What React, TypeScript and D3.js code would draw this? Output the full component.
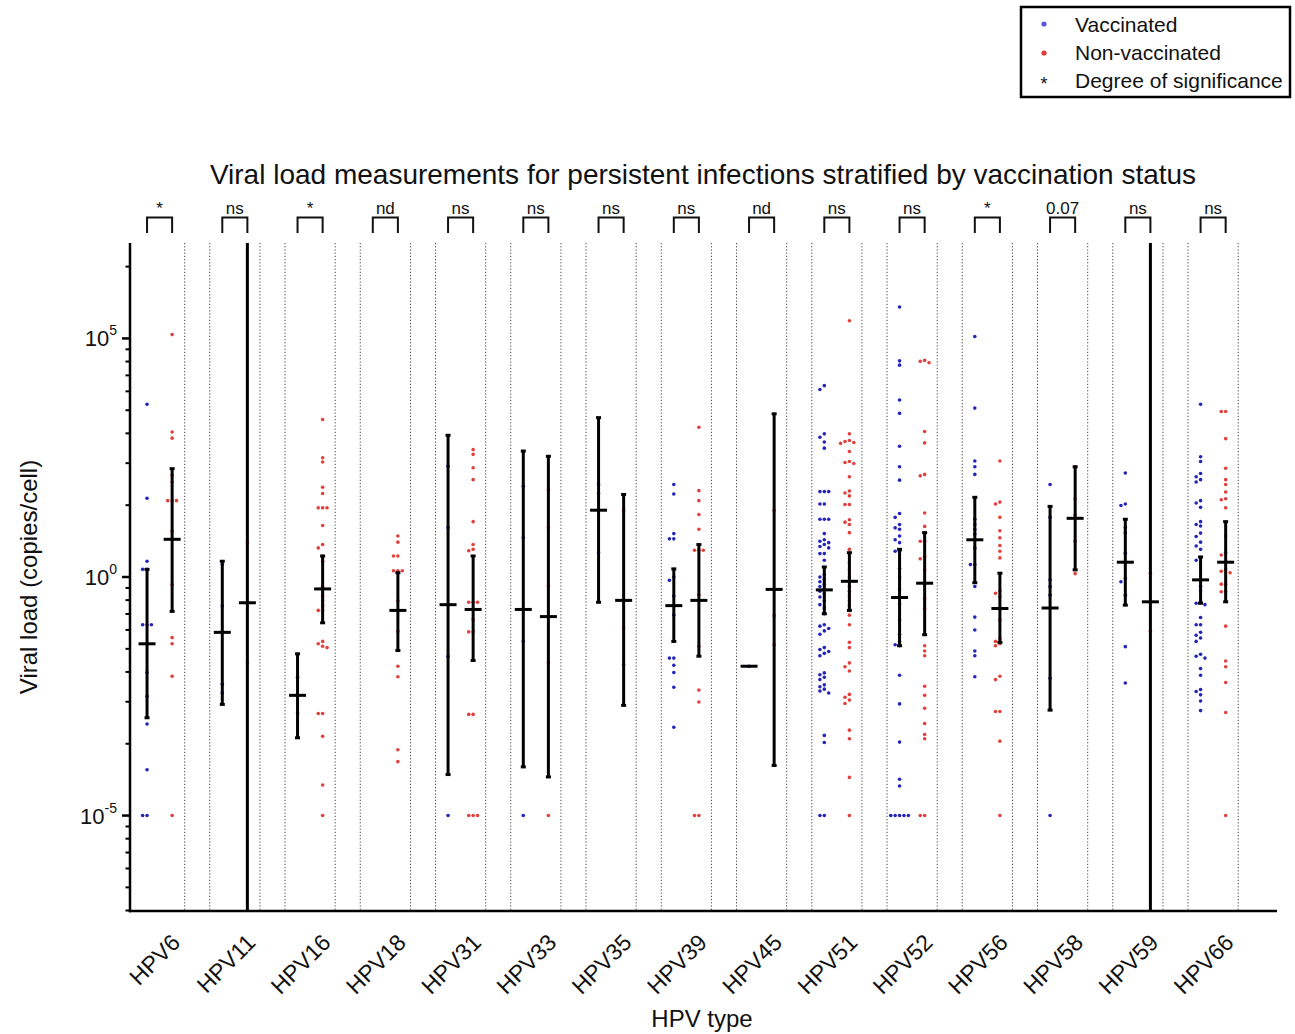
import React from "react";
import * as d3 from "d3";

// HPV types along the x axis
const hpvTypes = [
  "HPV6", "HPV11", "HPV16", "HPV18", "HPV31", "HPV33", "HPV35", "HPV39",
  "HPV45", "HPV51", "HPV52", "HPV56", "HPV58", "HPV59", "HPV66",
];

// label above each bracket
const significance = ["*", "ns", "*", "nd", "ns", "ns", "ns", "ns", "nd", "ns", "ns", "*", "0.07", "ns", "ns"];

// viral load per infection, stored as log10(copies/cell), one list per HPV type
const vaccinatedLog10 = [
  [3.62, 1.65, 0.33, 0.16, 0.16, -1.0, -1.0, -1.0, -2.0, -2.5, -3.08, -4.04, -5, -5],
  [0.26, -0.61, -2.25, -2.43],
  [-2.1, -2.5, -2.85],
  [],
  [2.32, 1.03, -1.66, -5],
  [1.9, 0.82, -1.35, -5],
  [1.94, 1.75, 0.51],
  [1.94, 1.74, 0.91, 0.8, 0.8, 0.0, -0.07, -0.4, -0.8, -1.7, -1.7, -1.85, -2.0, -2.31, -3.15],
  [-1.87],
  [4.01, 3.93, 3.0, 2.93, 2.83, 2.7, 1.79, 1.79, 1.79, 1.53, 1.53, 1.21, 1.21, 1.21, 0.91, 0.78, 0.75, 0.72, 0.68,
    0.64, 0.61, 0.49, 0.49, 0.35, 0.05, 0.0, -0.05, -0.1, -0.15, -0.2, -0.25, -0.3, -0.35, -0.42, -0.5, -0.58, -0.65,
    -0.77, -1.0, -1.03, -1.08, -1.13, -1.2, -1.48, -1.52, -1.56, -1.6, -1.65, -2.01, -2.05, -2.1, -2.15, -2.26, -2.3,
    -2.35, -2.39, -2.43, -3.32, -3.47, -5, -5],
  [5.66, 4.53, 4.44, 3.71, 3.43, 2.74, 2.31, 2.03, 1.33, 1.25, 1.1, 1.03, 1.0, 0.86, 0.78, 0.72, 0.54, 0.54, 0.18,
    0.0, -0.25, -0.56, -0.9, -1.2, -1.35, -1.42, -1.44, -2.06, -2.66, -3.46, -4.24, -4.38, -5, -5, -5, -5, -5],
  [5.04, 3.54, 2.43, 2.31, 2.15, 1.21, 1.1, 1.0, 0.9, 0.6, 0.26, 0.26, -0.2, -0.84, -1.11, -1.55, -1.65, -2.09],
  [1.94, 1.25, -0.06, -0.2, -0.38, -2.12, -5],
  [2.18, 1.53, 1.5, 1.04, 0.93, 0.5, -0.03, -0.1, -0.38, -1.46, -2.22],
  [3.62, 2.52, 2.42, 2.17, 2.1, 2.04, 1.99, 1.6, 1.55, 1.46, 1.16, 1.1, 1.07, 0.92, 0.85, 0.73, 0.65, 0.58, 0.41,
    0.35, -0.2, -0.29, -0.51, -0.55, -0.58, -0.85, -1.0, -1.0, -1.16, -1.22, -1.28, -1.35, -1.62, -1.66, -1.7, -1.92,
    -2.06, -2.36, -2.4, -2.47, -2.6, -2.8],
];

const nonVaccinatedLog10 = [
  [5.08, 3.04, 2.91, 2.13, 1.99, 1.6, 1.6, 1.6, 0.96, -0.16, -1.27, -1.4, -2.08, -5],
  [0.72, -1.8],
  [3.3, 2.5, 2.41, 1.88, 1.75, 1.45, 1.45, 1.45, 1.08, 0.68, 0.61, 0.44, 0.33, -0.2, -0.4, -0.5, -0.6, -0.7, -0.7,
    -1.35, -1.4, -1.45, -1.48, -2.86, -2.86, -3.34, -4.36, -5],
  [0.86, 0.73, 0.44, 0.44, 0.13, 0.13, 0.13, -0.5, -1.14, -1.87, -2.09, -3.62, -3.87],
  [2.67, 2.57, 2.29, 2.04, 1.16, 0.68, 0.58, 0.55, -0.53, -0.53, -0.53, -0.89, -1.15, -1.15, -2.88, -2.88, -5, -5, -5],
  [1.83, 1.03, -0.19, -1.79, -5],
  [1.4, -1.07, -1.83],
  [3.14, 1.81, 1.6, 1.31, 1.0, 0.56, 0.56, 0.56, -0.37, -0.49, -1.45, -2.37, -2.62, -5, -5],
  [1.4, -0.81, -1.42],
  [5.37, 3.0, 2.86, 2.84, 2.82, 2.8, 2.63, 2.42, 2.4, 2.38, 2.1, 1.8, 1.76, 1.7, 1.52, 1.52, 1.2, 1.15, 1.1, 0.93,
    0.58, 0.3, 0.15, 0.0, -0.1, -0.2, -0.3, -0.4, -0.5, -0.6, -0.7, -0.8, -1.0, -1.37, -1.48, -1.8, -1.88, -1.97,
    -2.46, -2.52, -2.58, -2.65, -3.21, -3.39, -4.2, -5],
  [4.54, 4.52, 4.49, 3.05, 2.81, 2.15, 2.12, 1.34, 1.06, 0.75, 0.75, 0.43, 0.38, 0.15, -0.15, -0.45, -0.66, -1.44,
    -1.55, -1.65, -2.29, -2.48, -2.75, -3.07, -3.3, -3.39, -5, -5],
  [2.43, 1.57, 1.53, 1.25, 0.97, 0.82, 0.66, 0.54, 0.4, -0.29, -0.34, -0.42, -0.9, -1.29, -1.35, -1.4, -1.44, -2.08,
    -2.15, -2.82, -2.82, -3.44, -5],
  [2.31, 1.64, 1.3, 0.75, 0.07],
  [0.08, -1.14],
  [3.47, 3.47, 2.9, 2.28, 2.04, 1.94, 1.78, 1.64, 1.62, 1.45, 0.86, 0.52, 0.46, 0.15, 0.12, 0.09, -0.15, -0.15, -0.31,
    -0.31, -1.03, -1.76, -1.88, -2.21, -2.84, -5],
];

// geometric mean and 95% CI (log10), as drawn in the figure; +-20 means off the axis
const vaccMean = [-1.4, -1.16, -2.48, null, -0.58, -0.68, 1.4, -0.6, -1.87, -0.27, -0.43, 0.78, -0.65, 0.31, -0.06];
const vaccLow = [-2.95, -2.67, -3.37, null, -4.14, -3.98, -0.53, -1.35, null, -0.77, -1.44, -0.12, -2.79, -0.59, -0.55];
const vaccHigh = [0.16, 0.33, -1.61, null, 2.97, 2.64, 3.34, 0.17, null, 0.21, 0.58, 1.67, 1.48, 1.21, 0.42];
const nonMean = [0.79, -0.54, -0.25, -0.7, -0.68, -0.83, -0.49, -0.49, -0.26, -0.09, -0.13, -0.66, 1.23, -0.52, 0.31];
const nonLow = [-0.72, -20, -0.96, -1.54, -1.75, -4.19, -2.69, -1.66, -3.95, -0.7, -1.21, -1.37, 0.15, -20, -0.52];
const nonHigh = [2.27, 20, 0.44, 0.09, 0.44, 2.53, 1.73, 0.68, 3.42, 0.51, 0.93, 0.08, 2.31, 20, 1.16];

const FONT = "'Liberation Sans', Arial, Helvetica, sans-serif";
const BLUE = "#2424b8";
const RED = "#e2403c";

const plot = { left: 130, right: 1277, top: 243, bottom: 911 };

// simple beeswarm so points of a column don't overlap
const swarm = (values, cx, y) => {
  const step = 4.4;
  const minD = 4.2;
  const placed = [];
  [...values].sort((a, b) => b - a).forEach(v => {
    const py = y(Math.pow(10, v));
    for (let k = 0; k < 40; k++) {
      const off = k === 0 ? 0 : (k % 2 ? -1 : 1) * Math.ceil(k / 2) * step;
      const px = cx + off;
      if (placed.every(p => (p.x - px) ** 2 + (p.y - py) ** 2 >= minD * minD)) {
        placed.push({ x: px, y: py });
        break;
      }
    }
  });
  return placed;
};

const App = () => {
  const yScale = d3.scaleLog().domain([1e-7, 1e7]).range([plot.bottom, plot.top]).clamp(true);
  const xGroup = d3
    .scaleBand()
    .domain(hpvTypes)
    .range([134.5, 1238.2])
    .paddingInner(1 / 3)
    .paddingOuter(0);
  const xSub = d3.scaleBand().domain(["vacc", "non"]).range([0, xGroup.bandwidth()]);
  const cx = (t, s) => xGroup(t) + xSub(s) + xSub.bandwidth() / 2;

  const majorTicks = [1e-5, 1, 1e5];
  const minorTicks = [];
  [-10, -5, 0, 5].forEach(base =>
    d3.range(2, 10).forEach(k => {
      const e = base + 5 * Math.log10(k);
      if (e > -7 && e < 7) minorTicks.push(Math.pow(10, e));
    })
  );

  const errorBar = (mean, lo, hi, x, key) => {
    if (mean == null) return null;
    const ym = yScale(Math.pow(10, mean));
    const inside = v => v > -7 && v < 7;
    return (
      <g key={key} stroke="#000" strokeWidth={3}>
        {lo != null && (
          <line x1={x} x2={x} y1={yScale(Math.pow(10, lo))} y2={yScale(Math.pow(10, hi))} />
        )}
        {lo != null && inside(lo) && (
          <line x1={x - 2.5} x2={x + 2.5} y1={yScale(Math.pow(10, lo))} y2={yScale(Math.pow(10, lo))} />
        )}
        {hi != null && inside(hi) && (
          <line x1={x - 2.5} x2={x + 2.5} y1={yScale(Math.pow(10, hi))} y2={yScale(Math.pow(10, hi))} />
        )}
        <line x1={x - 8.5} x2={x + 8.5} y1={ym} y2={ym} />
      </g>
    );
  };

  const supLabel = v => String(Math.round(Math.log10(v)));

  return (
    <div style={{ position: "absolute", left: 0, top: 0 }}>
      <svg width={1295} height={1034} style={{ display: "block" }} fontFamily={FONT}>
        <rect width={1295} height={1034} fill="#fff" />

        {/* dotted separators around each group */}
        {hpvTypes.map((t, i) => (
          <g key={t} stroke="#444" strokeWidth={1} strokeDasharray="1.2,2">
            {i > 0 && <line x1={xGroup(t)} x2={xGroup(t)} y1={plot.top} y2={plot.bottom} />}
            <line
              x1={xGroup(t) + xGroup.bandwidth()}
              x2={xGroup(t) + xGroup.bandwidth()}
              y1={plot.top}
              y2={plot.bottom}
            />
          </g>
        ))}

        {/* points */}
        {hpvTypes.map((t, i) => (
          <g key={t}>
            {swarm(vaccinatedLog10[i], cx(t, "vacc"), yScale).map((p, j) => (
              <circle key={"v" + j} cx={p.x} cy={p.y} r={1.8} fill={BLUE} />
            ))}
            {swarm(nonVaccinatedLog10[i], cx(t, "non"), yScale).map((p, j) => (
              <circle key={"n" + j} cx={p.x} cy={p.y} r={1.8} fill={RED} />
            ))}
          </g>
        ))}

        {/* geometric mean with 95% CI */}
        {hpvTypes.map((t, i) => (
          <g key={t}>
            {errorBar(vaccMean[i], vaccLow[i], vaccHigh[i], cx(t, "vacc"), "v")}
            {errorBar(nonMean[i], nonLow[i], nonHigh[i], cx(t, "non"), "n")}
          </g>
        ))}

        {/* y axis */}
        <g stroke="#000">
          <line x1={plot.left} x2={plot.left} y1={plot.top} y2={plot.bottom + 1.25} strokeWidth={2.5} />
          {majorTicks.map(v => (
            <line key={v} x1={plot.left - 8} x2={plot.left} y1={yScale(v)} y2={yScale(v)} strokeWidth={2.5} />
          ))}
          {minorTicks.map(v => (
            <line key={v} x1={plot.left - 4.5} x2={plot.left} y1={yScale(v)} y2={yScale(v)} strokeWidth={2} />
          ))}
        </g>
        {majorTicks.map(v => (
          <text key={v} x={117} y={yScale(v) + 8} textAnchor="end" fontSize={22} fill="#111">
            10
            <tspan fontSize={14} dy={-11}>
              {supLabel(v)}
            </tspan>
          </text>
        ))}

        {/* x axis */}
        <line x1={plot.left - 1.25} x2={plot.right} y1={plot.bottom} y2={plot.bottom} stroke="#000" strokeWidth={2.5} />
        {hpvTypes.map(t => {
          const x = xGroup(t) + xGroup.bandwidth() / 2 + 22;
          const y = 944;
          return (
            <text
              key={t}
              x={x}
              y={y}
              textAnchor="end"
              fontSize={23}
              fill="#111"
              transform={`rotate(-45,${x},${y})`}
            >
              {t}
            </text>
          );
        })}

        {/* significance brackets */}
        {hpvTypes.map((t, i) => {
          const x1 = cx(t, "vacc");
          const x2 = cx(t, "non");
          return (
            <g key={t}>
              <path
                d={`M${x1},233 V217.5 H${x2} V233`}
                fill="none"
                stroke="#111"
                strokeWidth={2}
              />
              <text x={(x1 + x2) / 2} y={214} textAnchor="middle" fontSize={17} fill="#111">
                {significance[i]}
              </text>
            </g>
          );
        })}

        {/* titles */}
        <text x={703} y={184} textAnchor="middle" fontSize={28} fill="#111">
          Viral load measurements for persistent infections stratified by vaccination status
        </text>
        <text x={702} y={1027} textAnchor="middle" fontSize={24} fill="#111">
          HPV type
        </text>
        <text
          x={0}
          y={0}
          textAnchor="middle"
          fontSize={24}
          fill="#111"
          transform={`translate(37,${yScale(1)}) rotate(-90)`}
        >
          Viral load (copies/cell)
        </text>

        {/* legend */}
        <g>
          <rect x={1021} y={7} width={269} height={90} fill="#fff" stroke="#000" strokeWidth={2.5} />
          <circle cx={1044} cy={24} r={2.6} fill="#5a5ad6" />
          <text x={1075} y={32} fontSize={21} fill="#111">Vaccinated</text>
          <circle cx={1044} cy={53} r={2.6} fill="#e03a3a" />
          <text x={1075} y={60} fontSize={21} fill="#111">Non-vaccinated</text>
          <text x={1044} y={90} textAnchor="middle" fontSize={18} fill="#111">*</text>
          <text x={1075} y={88} fontSize={21} fill="#111">Degree of significance</text>
        </g>
      </svg>
    </div>
  );
};

export default App;
